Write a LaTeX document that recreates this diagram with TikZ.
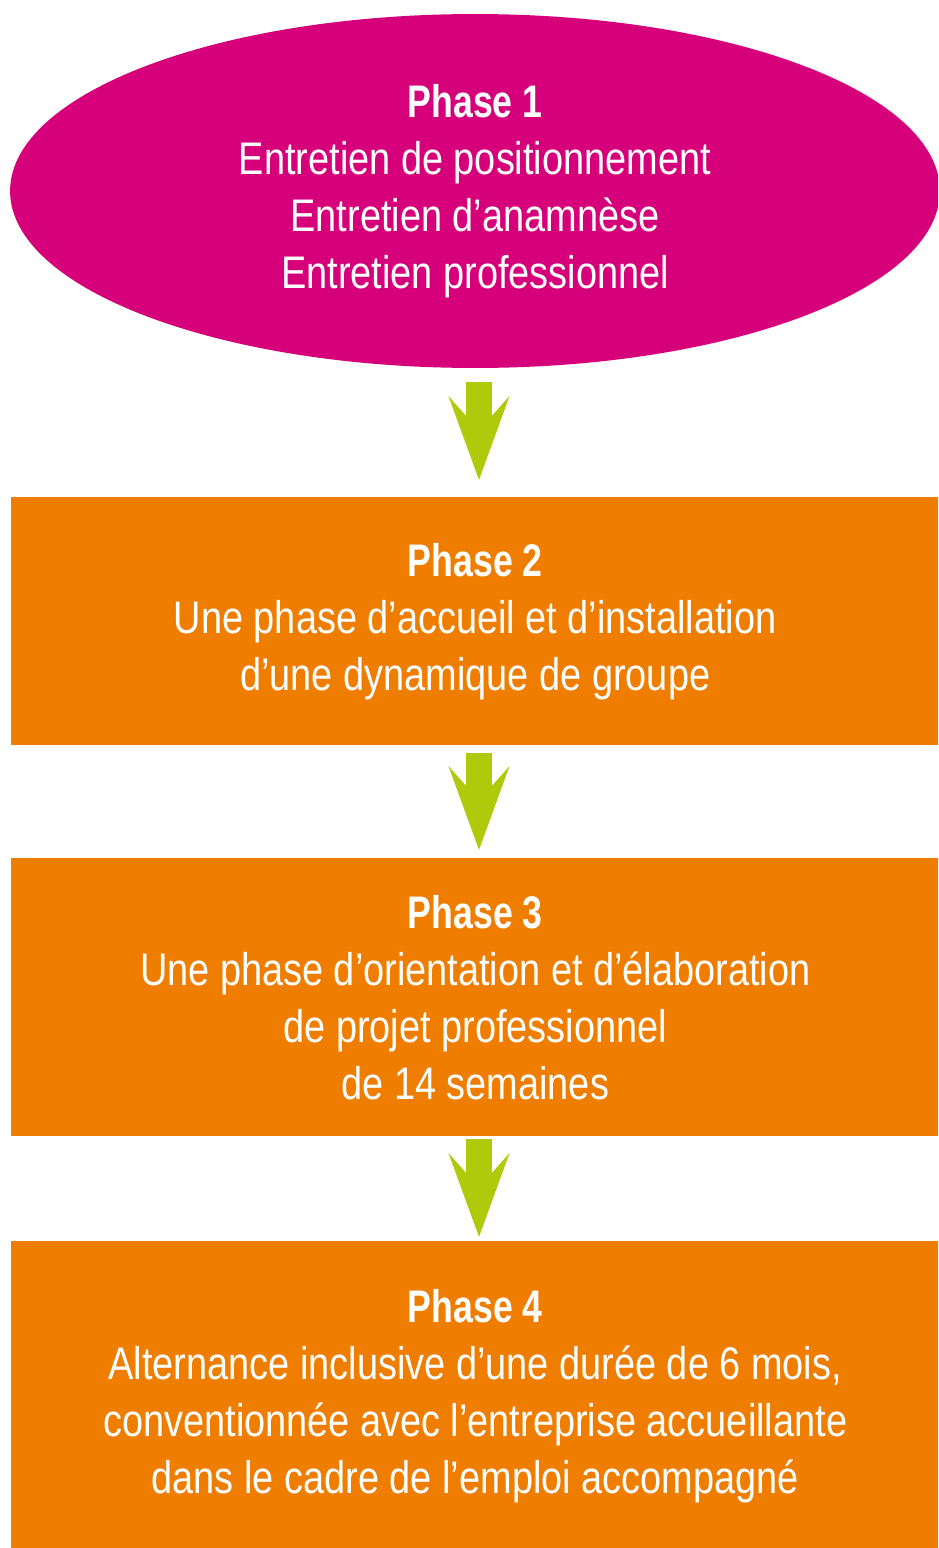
\documentclass[tikz,border=0pt]{standalone}
\usepackage{fontspec}
\setmainfont{Liberation Sans}[FakeStretch=0.83,BoldFeatures={FakeStretch=0.78}]
\usetikzlibrary{shapes.geometric,arrows.meta}
\definecolor{phasemagenta}{HTML}{D5007A}
\definecolor{phaseorange}{HTML}{EF7D00}
\definecolor{flowgreen}{HTML}{AFCA0B}
\begin{document}
\begin{tikzpicture}[x=0.02cm, y=-0.02cm, font=\fontsize{26}{32.5}\selectfont,
  phasebox/.style={fill=phaseorange, text=white, align=center, inner sep=0pt,
    anchor=north west, minimum width=18.56cm},
  flow/.style={flowgreen, line width=0.52cm,
    -{Stealth[length=1.66cm,width=1.2cm,inset=0.67cm]}}]
\def\ax{479}
\useasboundingbox (0,0) rectangle (938,1548);
\clip (0,0) rectangle (938,1548);
% phases
\node[ellipse, fill=phasemagenta, text=white, align=center, inner sep=0pt,
  minimum width=18.6cm, minimum height=7.08cm] (phase1) at (475,191)
  {\textbf{Phase 1}\\Entretien de positionnement\\Entretien d’anamnèse\\Entretien professionnel};
\node[phasebox, minimum height=4.96cm] (phase2) at (11,497)
  {\textbf{Phase 2}\\Une phase d’accueil et d’installation\\d’une dynamique de groupe};
\node[phasebox, minimum height=5.56cm] (phase3) at (11,858)
  {\textbf{Phase 3}\\Une phase d’orientation et d’élaboration\\de projet professionnel\\de 14 semaines};
\node[phasebox, minimum height=6.2cm] (phase4) at (11,1241)
  {\textbf{Phase 4}\\Alternance inclusive d’une durée de 6 mois,\\conventionnée avec l’entreprise accueillante\\dans le cadre de l’emploi accompagné};
% arrows
\coordinate (ax) at (\ax,0);
\draw[flow, shorten <=0.28cm, shorten >=0.34cm] (phase1.south -| ax) -- (phase2.north -| ax);
\draw[flow, shorten <=0.14cm, shorten >=0.16cm] (phase2.south -| ax) -- (phase3.north -| ax);
\draw[flow, shorten <=0.04cm, shorten >=0.08cm] (phase3.south -| ax) -- (phase4.north -| ax);
\end{tikzpicture}
\end{document}
